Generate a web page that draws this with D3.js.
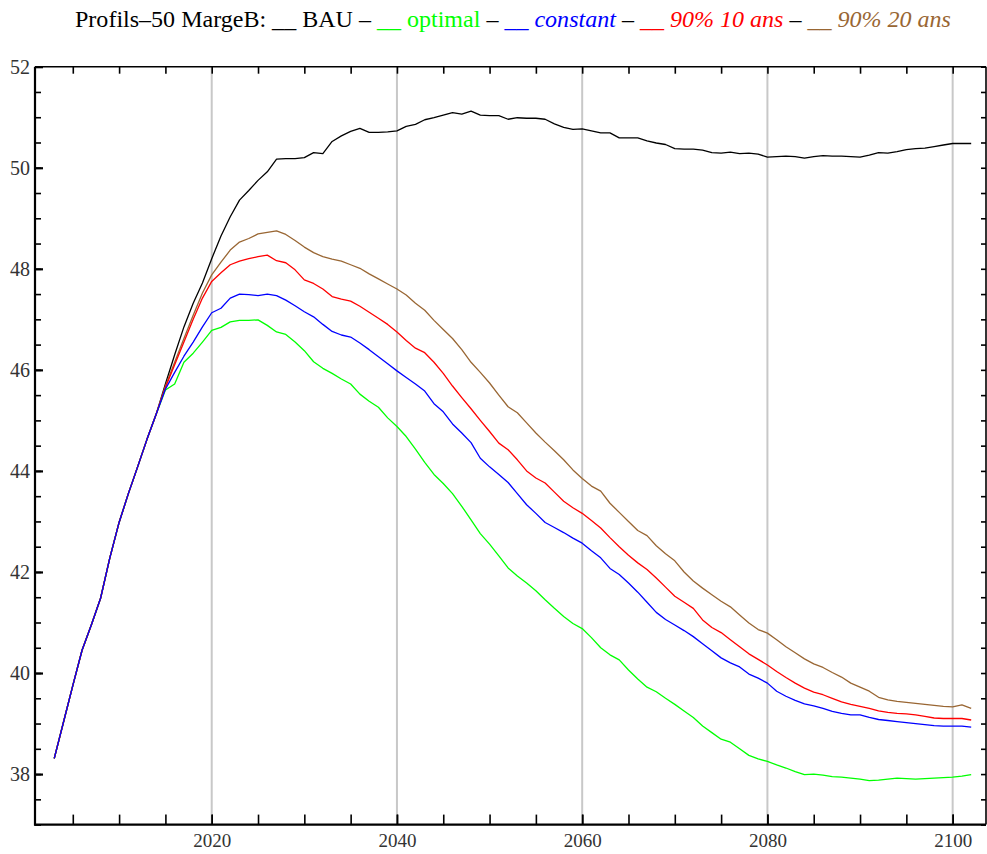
<!DOCTYPE html>
<html><head><meta charset="utf-8">
<script src="https://cdn.jsdelivr.net/npm/d3@7"></script>
<style>html,body{margin:0;padding:0;background:#fff;}svg{display:block;}</style>
</head><body>
<svg id="chart" width="987" height="854"></svg>
<script>
const years = d3.range(2003, 2103);
const common = [38.31,39.03,39.75,40.45,40.95,41.48,42.28,42.98,43.55,44.08,44.62,45.12];
const bau = common.concat([45.72,46.30,46.85,47.32,47.72,48.20,48.65,49.03,49.36,49.55,49.75,49.92,50.17,50.18,50.18,50.20,50.30,50.28,50.52,50.63,50.72,50.78,50.70,50.70,50.71,50.73,50.82,50.86,50.95,50.99,51.04,51.09,51.06,51.12,51.04,51.03,51.03,50.96,50.99,50.98,50.98,50.96,50.87,50.80,50.76,50.77,50.73,50.69,50.69,50.59,50.59,50.59,50.53,50.49,50.46,50.38,50.37,50.37,50.35,50.30,50.29,50.31,50.28,50.29,50.27,50.21,50.22,50.23,50.22,50.19,50.22,50.24,50.23,50.23,50.22,50.21,50.25,50.30,50.29,50.32,50.36,50.38,50.39,50.42,50.45,50.48,50.48,50.48]);
const optimal = common.concat([45.60,45.72,46.15,46.33,46.55,46.78,46.84,46.95,46.98,46.98,46.99,46.88,46.75,46.70,46.55,46.38,46.16,46.03,45.93,45.82,45.72,45.52,45.38,45.26,45.05,44.88,44.68,44.43,44.17,43.93,43.75,43.55,43.30,43.03,42.76,42.55,42.32,42.08,41.92,41.78,41.63,41.45,41.28,41.12,40.98,40.88,40.70,40.50,40.36,40.26,40.06,39.88,39.72,39.63,39.50,39.38,39.25,39.12,38.95,38.82,38.69,38.63,38.50,38.37,38.30,38.25,38.18,38.12,38.05,37.99,38.00,37.98,37.95,37.94,37.92,37.90,37.87,37.88,37.90,37.92,37.91,37.90,37.91,37.92,37.93,37.94,37.96,37.99]);
const constant = common.concat([45.62,45.95,46.27,46.55,46.85,47.13,47.22,47.42,47.50,47.49,47.47,47.50,47.47,47.38,47.27,47.15,47.05,46.90,46.76,46.69,46.65,46.53,46.40,46.26,46.12,45.98,45.85,45.72,45.58,45.33,45.17,44.93,44.75,44.56,44.25,44.08,43.93,43.77,43.55,43.33,43.16,42.98,42.88,42.78,42.67,42.57,42.42,42.28,42.07,41.95,41.78,41.60,41.40,41.20,41.06,40.95,40.84,40.72,40.58,40.44,40.30,40.20,40.12,39.98,39.90,39.80,39.64,39.54,39.46,39.39,39.35,39.30,39.24,39.20,39.17,39.17,39.12,39.08,39.06,39.04,39.02,39.00,38.98,38.96,38.95,38.95,38.95,38.93]);
const pct90y10 = common.concat([45.65,46.10,46.55,47.00,47.42,47.75,47.92,48.08,48.15,48.20,48.24,48.27,48.16,48.12,47.98,47.78,47.71,47.60,47.45,47.40,47.36,47.26,47.14,47.02,46.90,46.75,46.58,46.43,46.34,46.15,45.93,45.68,45.45,45.23,45.00,44.78,44.55,44.42,44.22,44.00,43.86,43.76,43.58,43.40,43.27,43.16,43.02,42.87,42.68,42.50,42.33,42.18,42.05,41.88,41.70,41.52,41.40,41.28,41.05,40.90,40.80,40.66,40.52,40.38,40.27,40.16,40.03,39.91,39.80,39.70,39.62,39.57,39.50,39.43,39.38,39.34,39.30,39.25,39.22,39.20,39.19,39.17,39.14,39.11,39.10,39.10,39.10,39.07]);
const pct90y20 = common.concat([45.68,46.15,46.62,47.08,47.52,47.88,48.13,48.37,48.53,48.60,48.69,48.72,48.75,48.68,48.56,48.43,48.32,48.24,48.19,48.15,48.08,48.01,47.90,47.80,47.70,47.60,47.48,47.32,47.18,46.98,46.80,46.62,46.40,46.15,45.95,45.74,45.50,45.27,45.15,44.95,44.75,44.57,44.40,44.22,44.02,43.85,43.70,43.60,43.36,43.18,43.00,42.82,42.72,42.52,42.36,42.22,42.00,41.82,41.68,41.55,41.42,41.31,41.15,40.99,40.86,40.79,40.66,40.52,40.40,40.28,40.18,40.11,40.01,39.92,39.80,39.72,39.64,39.52,39.47,39.44,39.42,39.40,39.38,39.36,39.34,39.33,39.37,39.30]);

const seriesNames = ["BAU","optimal","constant","90% 10 ans","90% 20 ans"];
const seriesColors = ["#000000","#00ff00","#0000ff","#ff0000","#996633"];
const seriesValues = [bau, optimal, constant, pct90y10, pct90y20];
const drawOrder = [0,1,4,3,2];

const xMajorTicks = [2020,2040,2060,2080,2100];
const xMinorTicks = d3.range(2005, 2101, 5);
const yMajorTicks = [38,40,42,44,46,48,50,52];
const yMinorTicks = d3.range(37, 52.01, 0.5);

const L = 35, R = 986, T = 66.7, B = 824.6;
const x = d3.scaleLinear().domain([2000.92, 2103.6]).range([L, R]);
const y = d3.scaleLinear().domain([37, 52]).range([B, T]);

const svg = d3.select("#chart");

// gridlines
svg.append("g").selectAll("line").data(xMajorTicks).join("line")
  .attr("x1", d => x(d)).attr("x2", d => x(d)).attr("y1", T).attr("y2", B)
  .attr("stroke", "#c8c8c8").attr("stroke-width", 2);

// series
const line = d3.line().x((d,i) => x(years[i])).y(d => y(d));
drawOrder.forEach(k => {
  svg.append("path").datum(seriesValues[k])
    .attr("d", line).attr("fill", "none")
    .attr("stroke", seriesColors[k]).attr("stroke-width", 1.3)
    .attr("stroke-linejoin", "round");
});

// frame
const fr = svg.append("g");
fr.append("line").attr("x1", L).attr("x2", L).attr("y1", T).attr("y2", B+1).attr("stroke","#000").attr("stroke-width",2.2);
fr.append("line").attr("x1", L-1).attr("x2", R).attr("y1", B).attr("y2", B).attr("stroke","#000").attr("stroke-width",2.2);
fr.append("line").attr("x1", L).attr("x2", R).attr("y1", T).attr("y2", T).attr("stroke","#000").attr("stroke-width",1.6);
fr.append("line").attr("x1", R).attr("x2", R).attr("y1", T).attr("y2", B).attr("stroke","#000").attr("stroke-width",1.6);

// axes with inward ticks
const xAxisB = d3.axisBottom(x).tickValues(xMinorTicks).tickSize(-10).tickFormat("");
const xAxisT = d3.axisTop(x).tickValues(xMinorTicks).tickSize(-7).tickFormat("");
const yAxisL = d3.axisLeft(y).tickValues(yMinorTicks).tickSize(-6).tickFormat("");
const yAxisR = d3.axisRight(y).tickValues(yMinorTicks).tickSize(-5).tickFormat("");
const yAxisLMaj = d3.axisLeft(y).tickValues(yMajorTicks).tickSize(-8).tickPadding(5).tickFormat(d3.format("d"));
const xAxisLbl = d3.axisBottom(x).tickValues(xMajorTicks).tickSize(-10).tickPadding(9).tickFormat(d3.format("d"));

function style(g){ g.select(".domain").remove(); g.selectAll(".tick line").attr("stroke","#000").attr("stroke-width",1.6); }
svg.append("g").attr("transform",`translate(0,${B})`).call(xAxisB).call(style);
svg.append("g").attr("transform",`translate(0,${T})`).call(xAxisT).call(style);
svg.append("g").attr("transform",`translate(${L},0)`).call(yAxisL).call(style);
svg.append("g").attr("transform",`translate(${R},0)`).call(yAxisR).call(style);
const gy = svg.append("g").attr("transform",`translate(${L},0)`).call(yAxisLMaj).call(style);
gy.selectAll(".tick line").attr("stroke-width",2.2);
gy.selectAll("text").attr("font-family","'Liberation Serif', serif").attr("font-size",20).attr("fill","#333");
const gx = svg.append("g").attr("transform",`translate(0,${B})`).call(xAxisLbl).call(style);
gx.selectAll("text").attr("font-family","'Liberation Serif', serif").attr("font-size",19).attr("fill","#333");

// title
const title = svg.append("text").attr("x", 75).attr("y", 27)
  .attr("font-family","'Liberation Serif', serif").attr("font-size", 23)
  .attr("textLength", 876).attr("lengthAdjust","spacingAndGlyphs");
title.append("tspan").attr("fill","#000").text("Profils\u201350 MargeB: ");
seriesNames.forEach((n, i) => {
  if (i > 0) title.append("tspan").attr("fill","#000").attr("font-style","normal").text(" \u2013 ");
  const italic = i >= 2 ? "italic" : "normal";
  title.append("tspan").attr("fill", seriesColors[i]).attr("font-style", italic).text("__ " + n);
});
</script>
</body></html>
